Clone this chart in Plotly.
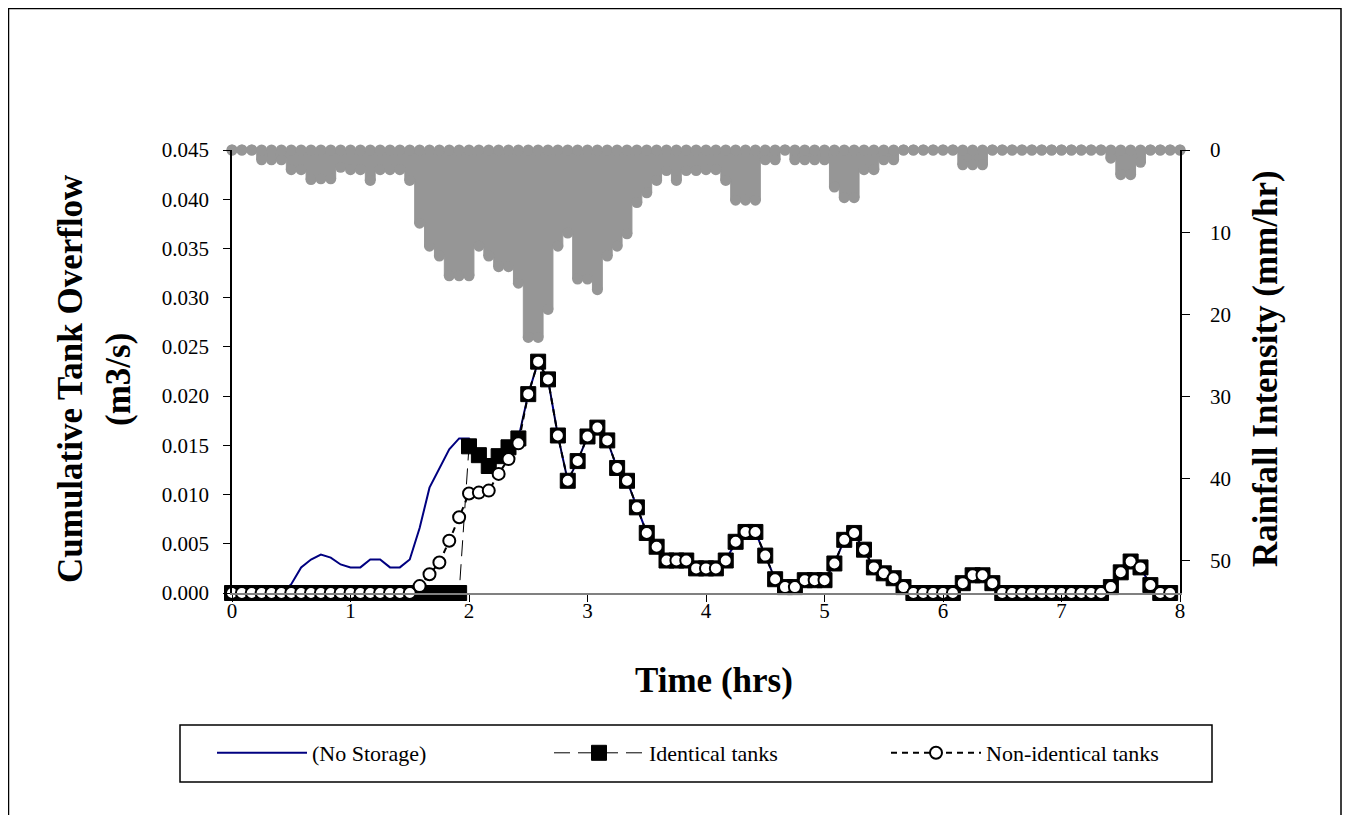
import numpy as np
import plotly.graph_objects as go

# ---------------- data ----------------
STEP_MIN = 5  # minutes between values

# Rainfall intensity (mm/hr), 5-minute blocks from 0 to 8 h
rain_mm_hr = [
    0, 0, 0, 1.2, 1.2, 1.2, 2.4, 2.4, 3.6, 3.5,
    3.5, 2.1, 2.4, 2.4, 3.7, 2.4, 2.4, 2.4, 3.7, 8.9,
    11.7, 12.9, 15.3, 15.3, 15.3, 11.7, 12.9, 14.2, 14.2, 16.2,
    22.8, 22.8, 19.4, 11.7, 10.1, 15.7, 15.7, 17.0, 12.9, 11.7,
    10.2, 6.4, 5.2, 3.7, 2.5, 3.7, 2.5, 2.5, 2.4, 2.4,
    3.7, 6.1, 6.1, 6.1, 1.2, 1.2, 0, 1.2, 1.2, 1.2,
    1.2, 4.5, 5.8, 5.8, 2.4, 2.4, 1.2, 1.2, 0, 0,
    0, 0, 0, 0, 1.8, 1.8, 1.8, 0, 0, 0,
    0, 0, 0, 0, 0, 0, 0, 0, 0, 1.0,
    3.0, 3.0, 1.5, 0, 0, 0, 0,
]

# Cumulative tank overflow (m3/s)
no_storage = [
    0, 0, 0, 0, 0, 0, 0.0009, 0.0026, 0.0034, 0.0039,
    0.0036, 0.0029, 0.0026, 0.0026, 0.0034, 0.0034, 0.0026, 0.0026, 0.0034, 0.0066,
    0.0107, 0.0127, 0.0146, 0.0157, 0.0157, 0.0140, 0.0129, 0.0139, 0.0148, 0.0157,
    0.0202, 0.0235, 0.0217, 0.0160, 0.0114, 0.0134, 0.0159, 0.0168, 0.0155, 0.0127,
    0.0114, 0.0087, 0.0061, 0.0047, 0.0033, 0.0033, 0.0033, 0.0025, 0.0025, 0.0025,
    0.0033, 0.0052, 0.0062, 0.0062, 0.0038, 0.0014, 0.0006, 0.0006, 0.0013, 0.0013,
    0.0013, 0.0030, 0.0054, 0.0061, 0.0044, 0.0026, 0.0020, 0.0015, 0.0006, 0,
    0, 0, 0, 0, 0.0010, 0.0018, 0.0018, 0.0010, 0, 0,
    0, 0, 0, 0, 0, 0, 0, 0, 0, 0.0006,
    0.0021, 0.0032, 0.0026, 0.0008, 0, 0,
]

identical_tanks = [
    0, 0, 0, 0, 0, 0, 0, 0, 0, 0,
    0, 0, 0, 0, 0, 0, 0, 0, 0, 0,
    0, 0, 0, 0, 0.0149, 0.0140, 0.0129, 0.0139, 0.0148, 0.0157,
    0.0202, 0.0235, 0.0217, 0.0160, 0.0114, 0.0134, 0.0159, 0.0168, 0.0155, 0.0127,
    0.0114, 0.0087, 0.0061, 0.0047, 0.0033, 0.0033, 0.0033, 0.0025, 0.0025, 0.0025,
    0.0033, 0.0052, 0.0062, 0.0062, 0.0038, 0.0014, 0.0006, 0.0006, 0.0013, 0.0013,
    0.0013, 0.0030, 0.0054, 0.0061, 0.0044, 0.0026, 0.0020, 0.0015, 0.0006, 0,
    0, 0, 0, 0, 0.0010, 0.0018, 0.0018, 0.0010, 0, 0,
    0, 0, 0, 0, 0, 0, 0, 0, 0, 0.0006,
    0.0021, 0.0032, 0.0026, 0.0008, 0, 0,
]

non_identical_tanks = [
    0, 0, 0, 0, 0, 0, 0, 0, 0, 0,
    0, 0, 0, 0, 0, 0, 0, 0, 0, 0.0007,
    0.0019, 0.0031, 0.0053, 0.0077, 0.0101, 0.0102, 0.0104, 0.0121, 0.0136, 0.0152,
    0.0202, 0.0235, 0.0217, 0.0160, 0.0114, 0.0134, 0.0159, 0.0168, 0.0155, 0.0127,
    0.0114, 0.0087, 0.0061, 0.0047, 0.0033, 0.0033, 0.0033, 0.0025, 0.0025, 0.0025,
    0.0033, 0.0052, 0.0062, 0.0062, 0.0038, 0.0014, 0.0006, 0.0006, 0.0013, 0.0013,
    0.0013, 0.0030, 0.0054, 0.0061, 0.0044, 0.0026, 0.0020, 0.0015, 0.0006, 0,
    0, 0, 0, 0, 0.0010, 0.0018, 0.0018, 0.0010, 0, 0,
    0, 0, 0, 0, 0, 0, 0, 0, 0, 0.0006,
    0.0021, 0.0032, 0.0026, 0.0008, 0, 0,
]

x_ticks = [0, 1, 2, 3, 4, 5, 6, 7, 8]
left_ticks = [0.000, 0.005, 0.010, 0.015, 0.020, 0.025, 0.030, 0.035, 0.040, 0.045]
right_ticks = [0, 10, 20, 30, 40, 50]

# ---------------- derived ----------------
t_rain = np.arange(len(rain_mm_hr)) * STEP_MIN / 60.0
t_flow = np.arange(len(no_storage)) * STEP_MIN / 60.0
rain_top = np.zeros(len(rain_mm_hr))

FONT = "Liberation Serif, Times New Roman, serif"
GREY = "#969696"

fig = go.Figure()

# rainfall blocks (right axis, reversed) drawn as a filled step profile
fig.add_trace(go.Scatter(x=t_rain, y=rain_mm_hr, yaxis="y2", mode="lines",
                         line=dict(color=GREY, width=1, shape="hvh"),
                         fill="tozeroy", fillcolor=GREY,
                         showlegend=False, hoverinfo="skip"))
# rounded ends of the blocks
fig.add_trace(go.Scatter(x=t_rain, y=rain_mm_hr, yaxis="y2", mode="markers",
                         marker=dict(color=GREY, size=11, line=dict(width=0)),
                         cliponaxis=False, showlegend=False, hoverinfo="skip"))
fig.add_trace(go.Scatter(x=t_rain, y=rain_top, yaxis="y2", mode="markers",
                         marker=dict(color=GREY, size=11, line=dict(width=0)),
                         cliponaxis=False, showlegend=False, hoverinfo="skip"))

# overflow series
fig.add_trace(go.Scatter(x=t_flow, y=no_storage, mode="lines", name="(No Storage)",
                         line=dict(color="#000080", width=2), cliponaxis=False))
fig.add_trace(go.Scatter(x=t_flow, y=identical_tanks, mode="lines+markers", name="Identical tanks",
                         line=dict(color="black", width=1, dash="16px,8px"),
                         marker=dict(symbol="square", size=15, color="black",
                                     line=dict(color="black", width=1)),
                         cliponaxis=False))
fig.add_trace(go.Scatter(x=t_flow, y=non_identical_tanks, mode="lines+markers", name="Non-identical tanks",
                         line=dict(color="black", width=2, dash="6px,5px"),
                         marker=dict(symbol="circle", size=12, color="white",
                                     line=dict(color="black", width=2)),
                         cliponaxis=False))

# page offset (browser body margin) so that screen coordinates match
OFF = 8
W, H = 1342, 807
L, T = 232 - OFF, 150 - OFF
pw, ph = 948, 443
R = W - L - pw
B = H - T - ph


def px(xs):
    return (xs - OFF - L) / pw


def py(ys):
    return (T + ph - (ys - OFF)) / ph


fig.update_layout(
    width=W, height=H,
    margin=dict(l=L, r=R, t=T, b=B, pad=0),
    paper_bgcolor="white", plot_bgcolor="white",
    font=dict(family=FONT, color="black", size=21),
    xaxis=dict(range=[0, 8], tickvals=x_ticks, ticks="outside", ticklen=7, tickcolor="black",
               showline=True, linecolor="#808080", linewidth=1.5, showgrid=False, zeroline=False,
               ticklabelstandoff=-9, tickfont=dict(family=FONT, size=21)),
    yaxis=dict(range=[0, 0.045], tickvals=left_ticks, tickformat=".3f", ticks="outside",
               ticklen=7, tickcolor="black", showline=True, linecolor="black", linewidth=1.5,
               showgrid=False, zeroline=False, ticklabelstandoff=10,
               tickfont=dict(family=FONT, size=21)),
    yaxis2=dict(range=[53.9, 0], tickvals=right_ticks, overlaying="y", side="right",
                ticks="outside", ticklen=8, tickcolor="black", showline=True, linecolor="black",
                linewidth=1.5, showgrid=False, zeroline=False, ticklabelstandoff=16,
                tickfont=dict(family=FONT, size=21)),
    legend=dict(orientation="h", x=px(212), xanchor="left", y=py(753), yanchor="middle",
                font=dict(family=FONT, size=22), itemwidth=90, entrywidth=232,
                entrywidthmode="pixels", bgcolor="rgba(0,0,0,0)", borderwidth=0),
    shapes=[
        dict(type="rect", xref="paper", yref="paper", x0=px(8.5), x1=px(1341), y0=py(860), y1=py(8.5),
             line=dict(color="black", width=1.5), layer="below"),
        dict(type="rect", xref="paper", yref="paper", x0=px(180), x1=px(1212), y0=py(782), y1=py(725),
             line=dict(color="black", width=1.5), layer="below"),
    ],
    annotations=[
        dict(text="<b>Cumulative Tank Overflow</b>", xref="paper", yref="paper", x=px(70), y=py(379),
             textangle=-90, showarrow=False, font=dict(family=FONT, size=35), xanchor="center", yanchor="middle"),
        dict(text="<b>(m3/s)</b>", xref="paper", yref="paper", x=px(118), y=py(380),
             textangle=-90, showarrow=False, font=dict(family=FONT, size=35), xanchor="center", yanchor="middle"),
        dict(text="<b>Rainfall Intensity (mm/hr)</b>", xref="paper", yref="paper", x=px(1265), y=py(369),
             textangle=-90, showarrow=False, font=dict(family=FONT, size=35), xanchor="center", yanchor="middle"),
        dict(text="<b>Time (hrs)</b>", xref="paper", yref="paper", x=px(714), y=py(680),
             showarrow=False, font=dict(family=FONT, size=35), xanchor="center", yanchor="middle"),
    ],
)

fig.write_html("out.html")
